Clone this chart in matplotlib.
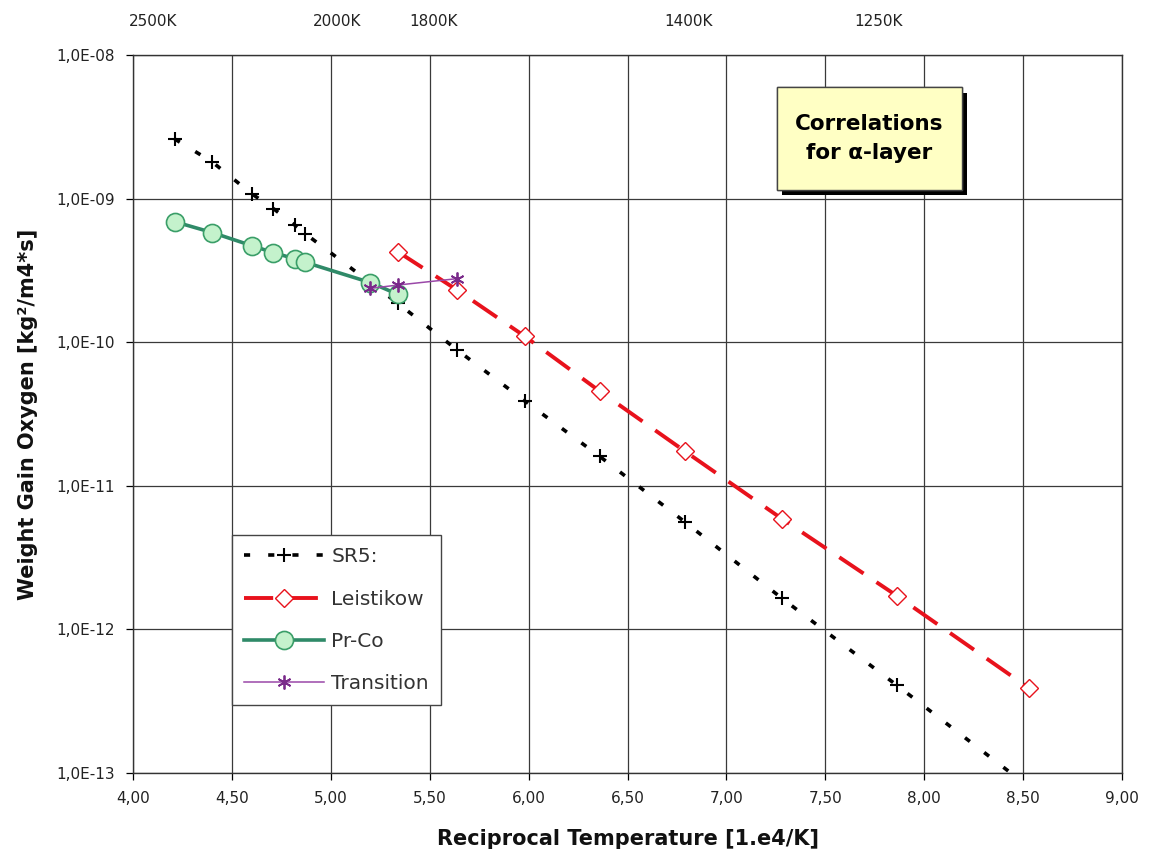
import matplotlib
matplotlib.use('Agg')
import matplotlib.pyplot as plt
import matplotlib.patheffects as pe
from matplotlib.patches import Rectangle
from matplotlib.ticker import FixedLocator, FuncFormatter
import numpy as np

# Reciprocal temperature (1e4/K) and weight gain rates (kg^2/m^4/s)
sr5_x = [4.21, 4.40, 4.60, 4.71, 4.82, 4.87, 5.34, 5.64, 5.98, 6.36, 6.79, 7.28, 7.86, 8.53]
sr5_y = [2.6e-9, 1.8e-9, 1.08e-9, 8.5e-10, 6.5e-10, 5.7e-10, 1.86e-10, 8.8e-11,
         3.9e-11, 1.6e-11, 5.6e-12, 1.65e-12, 4.1e-13, 8.0e-14]

leis_x = [5.34, 5.64, 5.98, 6.36, 6.79, 7.28, 7.86, 8.53]
leis_y = [4.25e-10, 2.3e-10, 1.1e-10, 4.55e-11, 1.74e-11, 5.9e-12, 1.72e-12, 3.9e-13]

prco_x = [4.21, 4.40, 4.60, 4.71, 4.82, 4.87, 5.20, 5.34]
prco_y = [6.9e-10, 5.8e-10, 4.7e-10, 4.2e-10, 3.8e-10, 3.6e-10, 2.6e-10, 2.15e-10]

trans_x = [5.20, 5.34, 5.64]
trans_y = [2.37e-10, 2.5e-10, 2.77e-10]

# temperature marks along the top
temp_labels = ['2500K', '2000K', '1800K', '1400K', '1250K']
temp_pos = [4.10, 5.03, 5.52, 6.81, 7.77]

x_ticks = np.arange(4.0, 9.01, 0.5)
y_exps = [-8, -9, -10, -11, -12, -13]

fig = plt.figure(figsize=(11.69, 8.58), dpi=100)
ax = fig.add_axes([0.1138, 0.099, 0.846, 0.837])

ax.plot(sr5_x, sr5_y, color='black', lw=2.6, dashes=(1.7, 5.0),
        marker='+', ms=10, mew=1.5, label='SR5:')
ax.plot(leis_x, leis_y, color='#e8121c', lw=2.8, dashes=(7.5, 4.0),
        marker='D', ms=9, mfc='white', mec='#e8121c', mew=1.0, label='Leistikow')
ax.plot(prco_x, prco_y, color='#2f8a68', lw=2.6,
        marker='o', ms=13, mfc='#c4f2cc', mec='#3a9e68', mew=1.2, label='Pr-Co')
ax.plot(trans_x, trans_y, color='#9a48a8', lw=1.1,
        marker=(6, 2, 0), ms=10, mec='#7a2a8a', mew=1.3, label='Transition')

ax.set_yscale('log')
ax.set_xlim(4.0, 9.0)
ax.set_ylim(1e-13, 1e-8)

ax.xaxis.set_major_locator(FixedLocator(x_ticks))
ax.xaxis.set_major_formatter(FuncFormatter(lambda v, p: f'{v:.2f}'.replace('.', ',')))
ax.yaxis.set_major_locator(FixedLocator([10.0**e for e in y_exps]))
ax.yaxis.set_minor_locator(FixedLocator([]))
ax.yaxis.set_major_formatter(FuncFormatter(
    lambda v, p: '1,0E{:+03d}'.format(int(round(np.log10(v))))))

ax.tick_params(axis='both', which='major', labelsize=11, labelcolor='#222222',
               length=5, width=0.9, direction='out')
ax.tick_params(axis='x', pad=8)
ax.tick_params(axis='y', pad=8)
ax.grid(True, which='major', color='#3a3a3a', lw=0.9)
for s in ax.spines.values():
    s.set_color('#333333')
    s.set_linewidth(1.0)

ax.set_xlabel('Reciprocal Temperature [1.e4/K]', fontsize=15, fontweight='bold',
              color='#111111')
ax.xaxis.set_label_coords(0.5, -0.078)
ax.set_ylabel('Weight Gain Oxygen [kg²/m4*s]', fontsize=15, fontweight='bold',
              color='#111111')
ax.yaxis.set_label_coords(-0.096, 0.5)

for lab, xp in zip(temp_labels, temp_pos):
    ax.text(xp, 1.046, lab, transform=ax.get_xaxis_transform(), fontsize=11,
            ha='center', va='center', color='#222222')

# yellow note box with drop shadow
box = Rectangle((0.651, 0.812), 0.187, 0.143, transform=ax.transAxes,
                facecolor='#ffffc4', edgecolor='#444444', lw=1.0, zorder=5)
box.set_path_effects([pe.withSimplePatchShadow(offset=(4, -4),
                                               shadow_rgbFace='black', alpha=1.0),
                      pe.Normal()])
ax.add_patch(box)
ax.text(0.7445, 0.8835, 'Correlations\nfor α-layer', transform=ax.transAxes,
        ha='center', va='center', fontsize=15.5, fontweight='bold',
        linespacing=1.55, zorder=6)

leg = ax.legend(loc='upper left', bbox_to_anchor=(0.0998, 0.331), fontsize=14.5,
                handlelength=4.0, handletextpad=0.35, labelspacing=1.15,
                borderpad=0.6, borderaxespad=0.0, fancybox=False, framealpha=1.0,
                edgecolor='#444444')
leg.get_frame().set_linewidth(1.0)
for t in leg.get_texts():
    t.set_color('#333333')

fig.savefig('out.png', dpi=100, facecolor='white')
